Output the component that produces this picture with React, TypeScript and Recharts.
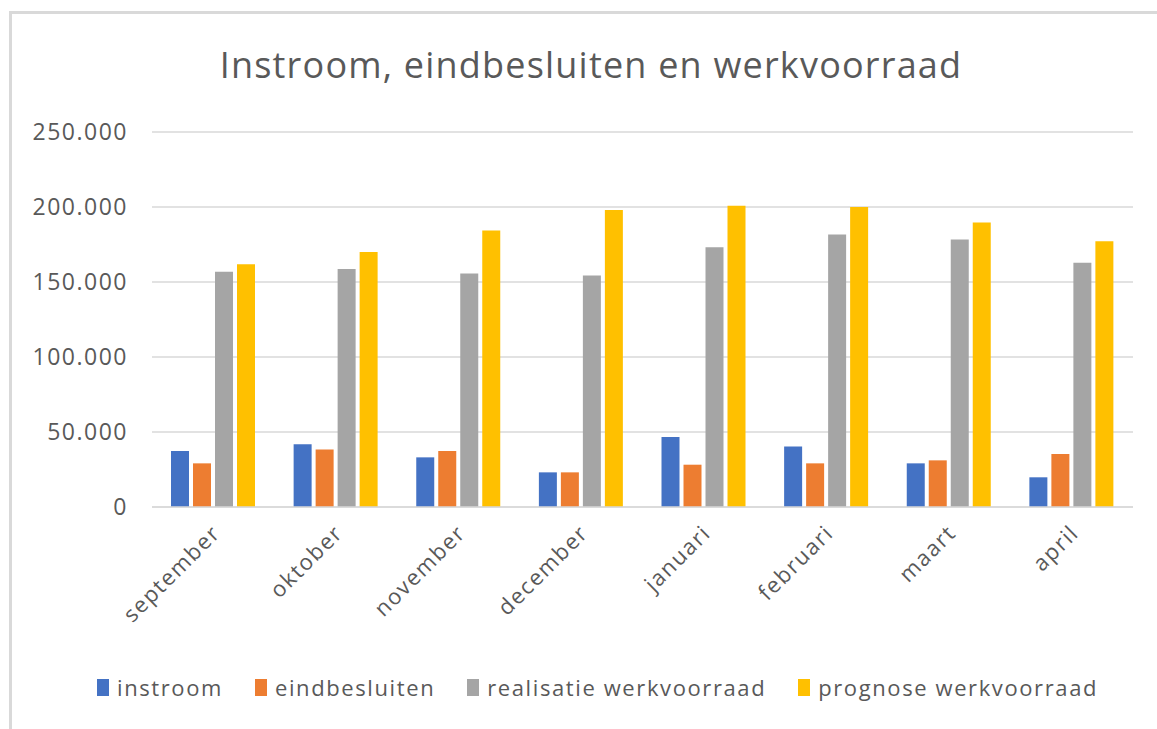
import React from 'react';
import { BarChart, Bar, XAxis, YAxis, CartesianGrid } from 'recharts';

// months shown on the x axis
const months = ['september', 'oktober', 'november', 'december', 'januari', 'februari', 'maart', 'april'];

// values
const instroom = [37300, 41800, 33100, 23100, 46700, 40400, 29100, 19800];
const eindbesluiten = [29100, 38400, 37300, 23100, 28200, 29100, 31100, 35300];
const realisatie = [156900, 158700, 155600, 154400, 173100, 181600, 178400, 162900];
const prognose = [161800, 170000, 184400, 198000, 200900, 200000, 189600, 177100];

const yTicks = [0, 50000, 100000, 150000, 200000, 250000];

const series = [
  { key: 'instroom', name: 'instroom', color: '#4472C4' },
  { key: 'eindbesluiten', name: 'eindbesluiten', color: '#ED7D31' },
  { key: 'realisatie', name: 'realisatie werkvoorraad', color: '#A5A5A5' },
  { key: 'prognose', name: 'prognose werkvoorraad', color: '#FFC000' },
];

const data = months.map((m, i) => ({
  month: m,
  instroom: instroom[i],
  eindbesluiten: eindbesluiten[i],
  realisatie: realisatie[i],
  prognose: prognose[i],
}));

const FONT = '"Open Sans", "Noto Sans", sans-serif';
const TEXT = '#595959';

const fmt = (v: number) => v.toLocaleString('de-DE');

const MonthTick = ({ x, y, payload }: any) => {
  const tx = x + 2;
  const ty = y + 13;
  return (
    <text
      x={tx}
      y={ty}
      transform={`rotate(-45, ${tx}, ${ty})`}
      textAnchor="end"
      dominantBaseline="central"
      fill={TEXT}
      fontSize={22}
      letterSpacing={1.6}
      fontFamily={FONT}
    >
      {payload.value}
    </text>
  );
};

export default function App() {
  return (
    <div style={{ position: 'absolute', left: 0, top: 0, width: 1157, height: 729, background: '#fff', overflow: 'hidden' }}>
      <div style={{ position: 'absolute', left: 9, top: 11, width: 1300, height: 900, borderLeft: '3px solid #d9d9d9', borderTop: '3px solid #d9d9d9' }} />
      <div style={{ position: 'absolute', left: 0, width: 1182, top: 40, textAlign: 'center', fontFamily: FONT, fontSize: 36, color: TEXT, letterSpacing: 1.2 }}>
        Instroom, eindbesluiten en werkvoorraad
      </div>
      <div style={{ position: 'absolute', left: 0, top: 0 }}>
        <BarChart width={1157} height={729} data={data} margin={{ top: 132, right: 24, bottom: 72, left: 0 }} barGap={4} barSize={18}>
          <CartesianGrid vertical={false} stroke="#d9d9d9" strokeWidth={1.5} />
          <XAxis dataKey="month" axisLine={{ stroke: '#d9d9d9', strokeWidth: 1.5 }} tickLine={false} height={150} interval={0} tick={<MonthTick />} />
          <YAxis
            width={152}
            domain={[0, 250000]}
            ticks={yTicks}
            axisLine={false}
            tickLine={false}
            tickSize={0}
            tickMargin={24}
            tickFormatter={fmt}
            tick={{ fill: TEXT, fontSize: 23, fontFamily: FONT, letterSpacing: 1.5 }}
          />
          {series.map((s) => (
            <Bar key={s.key} dataKey={s.key} name={s.name} fill={s.color} isAnimationActive={false} />
          ))}
        </BarChart>
      </div>
      <div style={{ position: 'absolute', left: 97, top: 672, display: 'flex', alignItems: 'center', fontFamily: FONT, fontSize: 22, color: TEXT, letterSpacing: 1.6 }}>
        {series.map((s) => (
          <div key={s.key} style={{ display: 'flex', alignItems: 'center', marginRight: 32 }}>
            <span style={{ display: 'inline-block', width: 12, height: 17, background: s.color, marginRight: 8 }} />
            <span>{s.name}</span>
          </div>
        ))}
      </div>
    </div>
  );
}
